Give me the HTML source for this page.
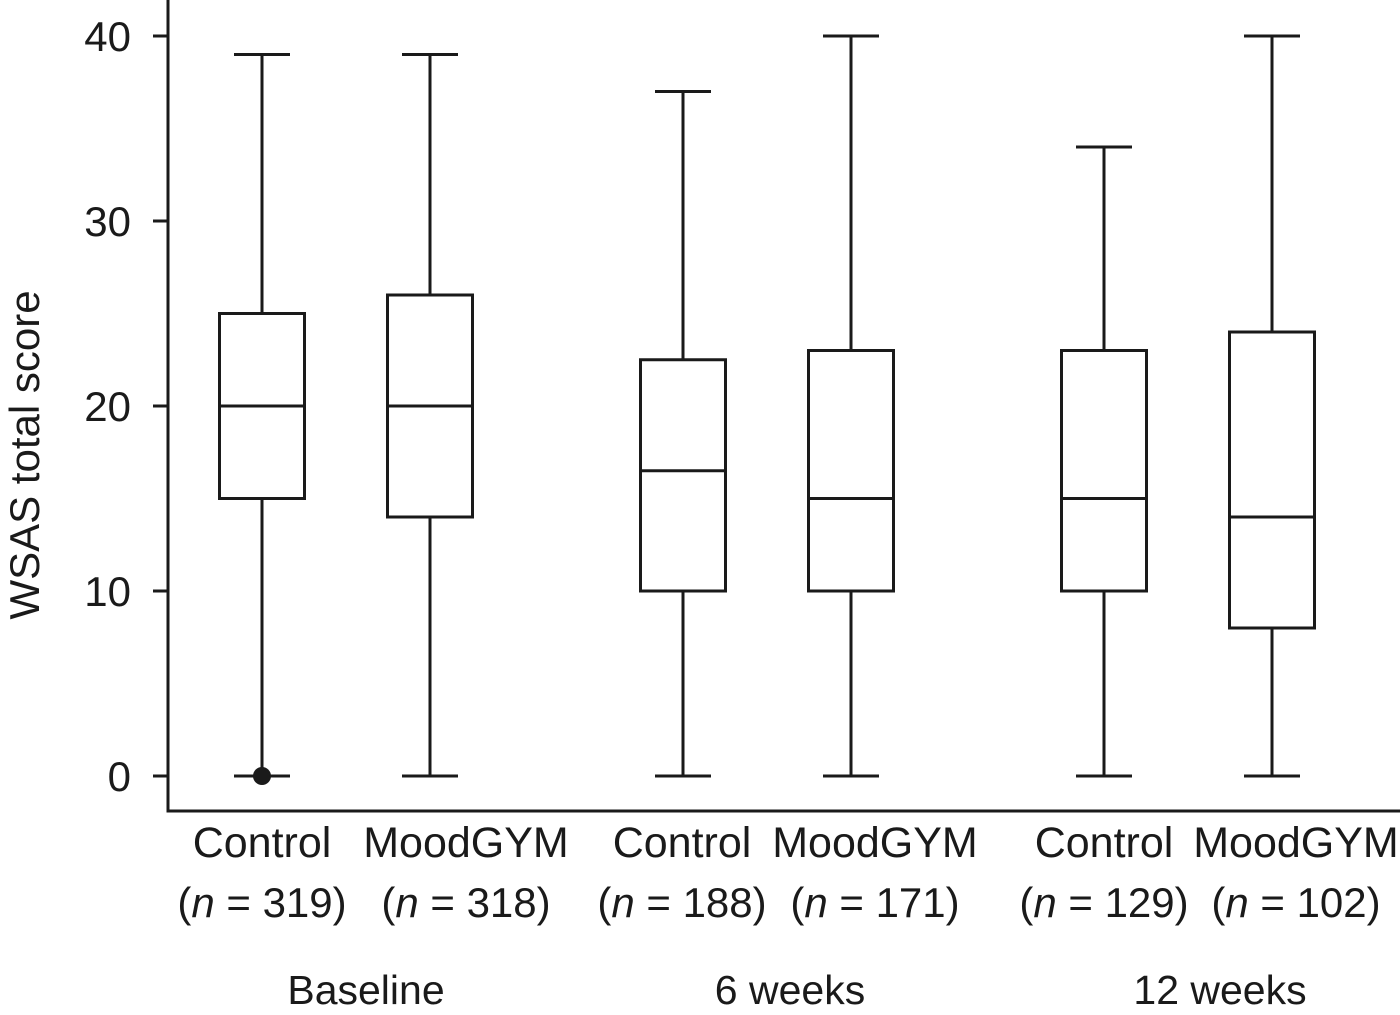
<!DOCTYPE html>
<html><head><meta charset="utf-8"><style>
html,body{margin:0;padding:0;background:#fff;}
svg{display:block;}
text{font-family:"Liberation Sans Narrow","Liberation Sans",sans-serif;fill:#1a1a1a;}
</style></head><body>
<svg id="chart" width="1400" height="1015" viewBox="0 0 1400 1015" xmlns="http://www.w3.org/2000/svg">
<g id="axes"></g><g id="boxes"></g><g id="labels"></g>
</svg>
<script>
const categories = ["Control","MoodGYM","Control","MoodGYM","Control","MoodGYM"];
const nLabels = ["319","318","188","171","129","102"];
const groups = ["Baseline","6 weeks","12 weeks"];
const mins = [0,0,0,0,0,0];
const q1s = [15,14,10,10,10,8];
const medians = [20,20,16.5,15,15,14];
const q3s = [25,26,22.5,23,23,24];
const maxs = [39,39,37,40,34,40];
const outliers = [[0],[],[],[],[],[]];
const yTicks = [0,10,20,30,40];

const NS="http://www.w3.org/2000/svg";
const y = v => 776 - v*18.5;
const xCenters = [262,430,683,851,1104,1272];
const labelCenters = [262,466,682,875,1104,1296];
const x = i => xCenters[i];
function mk(tag, attrs, parent){const e=document.createElementNS(NS,tag);for(const k in attrs)e.setAttribute(k,attrs[k]);parent.appendChild(e);return e;}
const axes=document.getElementById('axes'), boxes=document.getElementById('boxes'), labels=document.getElementById('labels');
const st={stroke:"#1a1a1a","stroke-width":3,fill:"none"};

let ya=mk('line',Object.assign({x1:168,y1:0,x2:168,y2:812.5},st),axes);


let xa=mk('line',Object.assign({x1:166.5,y1:811,x2:1400,y2:811},st),axes);


yTicks.forEach(t=>{
  let l=mk('line',Object.assign({x1:153,y1:y(t),x2:168,y2:y(t)},st),axes);
  
  
  let tx=mk('text',{x:131,y:y(t)+15,"text-anchor":"end","font-size":42},axes);
  tx.textContent=t;
  
  
});
let yt=mk('text',{x:0,y:0,"text-anchor":"middle","font-size":42,transform:"translate(39,455) rotate(-90)"},axes);
yt.textContent="WSAS total score";



categories.forEach((c,i)=>{
  const cx=x(i), hw=42.5, cw=28;
  const g=mk('g',{},boxes);
  
  
  mk('line',Object.assign({x1:cx,y1:y(maxs[i]),x2:cx,y2:y(q3s[i])},st),g);
  mk('line',Object.assign({x1:cx,y1:y(q1s[i]),x2:cx,y2:y(mins[i])},st),g);
  mk('line',Object.assign({x1:cx-cw,y1:y(maxs[i]),x2:cx+cw,y2:y(maxs[i])},st),g);
  mk('line',Object.assign({x1:cx-cw,y1:y(mins[i]),x2:cx+cw,y2:y(mins[i])},st),g);
  mk('rect',Object.assign({x:cx-hw,y:y(q3s[i]),width:hw*2,height:y(q1s[i])-y(q3s[i])},st),g);
  mk('line',Object.assign({x1:cx-hw,y1:y(medians[i]),x2:cx+hw,y2:y(medians[i])},st),g);
  outliers[i].forEach(o=>{
    let d=mk('circle',{cx:cx,cy:y(o),r:9,fill:"#1a1a1a"},g);
    
    
  });
  const lx=labelCenters[i];
  let t=mk('text',{x:lx,y:857,"text-anchor":"middle","font-size":43},labels);
  t.textContent=c;
  
  
  let n=mk('text',{x:lx,y:917,"text-anchor":"middle","font-size":42},labels);
  n.innerHTML='(<tspan font-style="italic">n</tspan> = '+nLabels[i]+')';
  
  
});
const groupCenters=[366,790,1220];
groups.forEach((gname,j)=>{
  let t=mk('text',{x:groupCenters[j],y:1004,"text-anchor":"middle","font-size":41},labels);
  t.textContent=gname;
  
  
});
</script>
</body></html>
